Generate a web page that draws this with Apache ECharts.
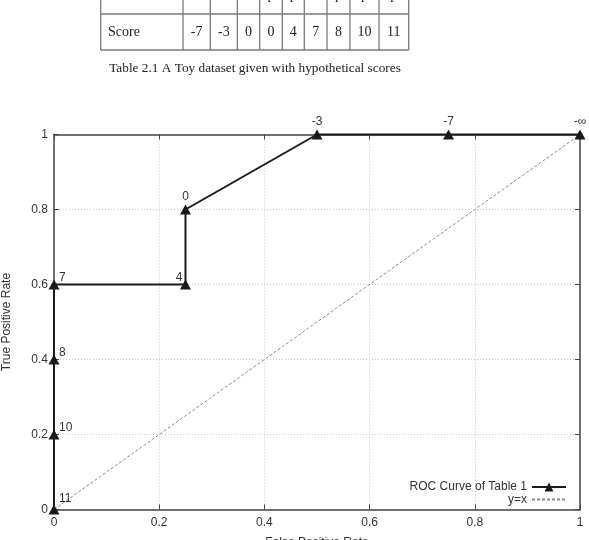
<!DOCTYPE html>
<html>
<head>
<meta charset="utf-8">
<script src="https://cdn.jsdelivr.net/npm/echarts@6/dist/echarts.min.js"></script>
<style>
html,body{margin:0;padding:0;background:#fff;}
#c{width:589px;height:540px;}
</style>
</head>
<body>
<div id="c"></div>
<script>
// ---- Data ----
var classLabels = ['n', 'n', 'n', 'p', 'p', 'n', 'p', 'p', 'p'];
var tableScores = ['-7', '-3', '0', '0', '4', '7', '8', '10', '11'];
var tableCaption = 'Table 2.1 A Toy dataset given with hypothetical scores';

var fpr = [0, 0, 0, 0, 0.25, 0.25, 0.5, 0.75, 1];
var tpr = [0, 0.2, 0.4, 0.6, 0.6, 0.8, 1, 1, 1];
var thresholds = ['11', '10', '8', '7', '4', '0', '-3', '-7', '-\u221e'];
var diagX = [0, 1];
var diagY = [0, 1];

// ---- Layout / style (not data) ----
var colEdges = [100.7, 183, 210.3, 237.3, 259.7, 282.3, 304.3, 327, 350, 379, 408.7];
var rowLineY = 14, tableBottom = 50, tableTop = -30;
var serif = '"Liberation Serif", "Times New Roman", serif';
var sans = '"Liberation Sans", Arial, Helvetica, sans-serif';
var tableFont = '14px ' + serif;

var graphic = [];
function hline(y) {
  graphic.push({type: 'line', shape: {x1: colEdges[0], y1: y, x2: colEdges[colEdges.length - 1], y2: y},
    style: {stroke: '#7a7a7a', lineWidth: 1.3}, silent: true});
}
hline(rowLineY);
hline(tableBottom);
colEdges.forEach(function (x) {
  graphic.push({type: 'line', shape: {x1: x, y1: tableTop, x2: x, y2: tableBottom},
    style: {stroke: '#7a7a7a', lineWidth: 1.3}, silent: true});
});
function txt(t, x, y, align, font) {
  graphic.push({type: 'text', x: x, y: y, silent: true,
    style: {text: t, font: font || tableFont, fill: '#222', textAlign: align, textVerticalAlign: 'middle',
      align: align, verticalAlign: 'middle'}});
}
txt('Class Label', 108, -4.5, 'left');
txt('Score', 108, 32, 'left');
for (var i = 0; i < classLabels.length; i++) {
  var cx = (colEdges[i + 1] + colEdges[i + 2]) / 2;
  txt(classLabels[i], cx, -4.5, 'center');
  txt(tableScores[i], cx, 32, 'center');
}
txt(tableCaption, 255, 69, 'center', '13.3px ' + serif);

// point label placement (style)
function labelFor(i) {
  var x = fpr[i];
  if (x === 0) {
    return {show: true, position: 'inside', align: 'left', verticalAlign: 'middle', offset: [5, i === 0 ? -11 : -6.5]};
  }
  if (i === 4) {
    return {show: true, position: 'inside', align: 'right', verticalAlign: 'middle', offset: [-3, -7]};
  }
  return {show: true, position: 'inside', align: 'center', verticalAlign: 'middle', offset: [0, -12.5]};
}
var rocData = fpr.map(function (x, i) {
  var l = labelFor(i);
  l.formatter = thresholds[i];
  l.color = '#333';
  l.fontFamily = sans;
  l.fontSize = 12;
  return {value: [x, tpr[i]], label: l};
});
var diagData = diagX.map(function (x, i) { return [x, diagY[i]]; });

function makeAxis(pos, isX, main) {
  return {
    type: 'value', position: pos, min: 0, max: 1, interval: 0.2,
    name: main ? (isX ? 'False Positive Rate' : 'True Positive Rate') : '',
    nameLocation: 'middle',
    nameGap: isX ? 27 : 41,
    nameTextStyle: {color: '#333', fontFamily: sans, fontSize: 12},
    axisLine: {show: true, onZero: false, lineStyle: {color: '#444', width: 1.5}},
    axisTick: {show: true, inside: true, length: 5, lineStyle: {color: '#444', width: 1}},
    axisLabel: {show: main, color: '#333', fontFamily: sans, fontSize: 12, margin: isX ? 7 : 6,
      formatter: function (v) { return String(+v.toFixed(1)); }},
    splitLine: {show: main, lineStyle: {color: '#c8c8c8', type: [1, 2], width: 1}}
  };
}

var chart = echarts.init(document.getElementById('c'), null, {renderer: 'canvas'});
chart.setOption({
  animation: false,
  backgroundColor: '#fff',
  grid: {left: 54, right: 9, top: 134.5, bottom: 30.5, containLabel: false, outerBoundsMode: 'none'},
  xAxis: [makeAxis('bottom', true, true), makeAxis('top', true, false)],
  yAxis: [makeAxis('left', false, true), makeAxis('right', false, false)],
  legend: [
    {data: ['ROC Curve of Table 1'], right: 22, top: 481, padding: 0, align: 'right', itemWidth: 34, itemHeight: 11,
      textStyle: {color: '#333', fontFamily: sans, fontSize: 12}},
    {data: [{name: 'y=x', itemStyle: {opacity: 0}}], right: 22, top: 493.5, padding: 0, align: 'right', itemWidth: 34, itemHeight: 11,
      textStyle: {color: '#333', fontFamily: sans, fontSize: 12}}
  ],
  graphic: graphic,
  series: [
    {
      name: 'y=x', type: 'line', data: diagData, symbol: 'none', silent: true,
      lineStyle: {color: '#8a8a8a', width: 1, type: [3, 2]},
      itemStyle: {color: '#8a8a8a'}, z: 2
    },
    {
      name: 'ROC Curve of Table 1', type: 'line', data: rocData,
      symbol: 'triangle', symbolSize: [11, 10], showAllSymbol: true, clip: false,
      lineStyle: {color: '#1a1a1a', width: 2},
      itemStyle: {color: '#1a1a1a'}, z: 3
    }
  ]
});
</script>
</body>
</html>
